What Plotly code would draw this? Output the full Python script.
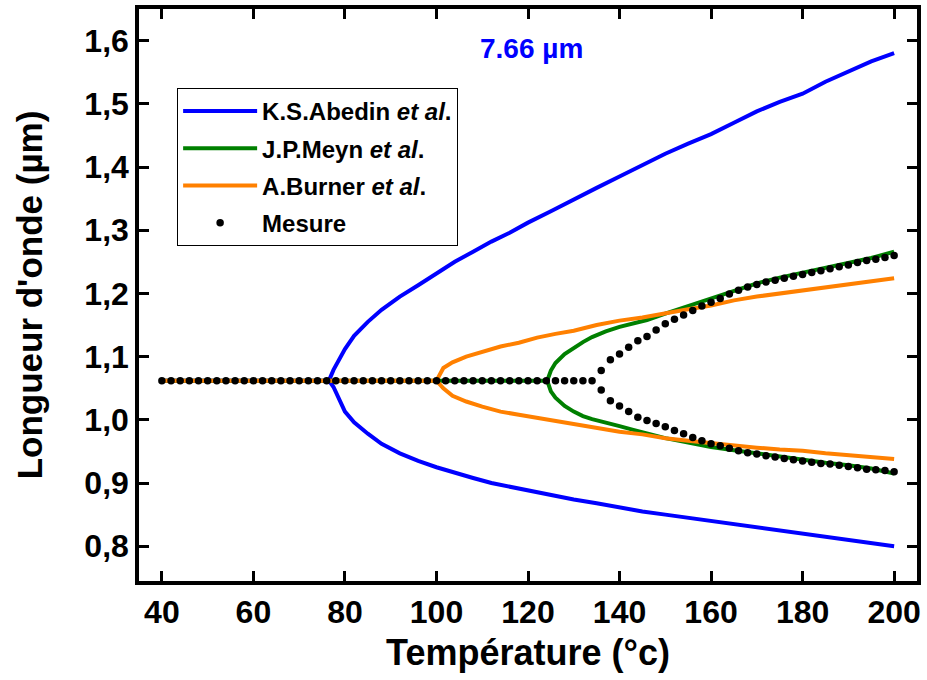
import plotly.graph_objects as go

# ---------------- data ----------------
flat_level = 1.062

abedin_T = [76.5, 77.5, 80, 82, 85, 88, 92, 96, 100, 104, 108, 112, 116, 120, 125, 130,
            135, 140, 145, 150, 155, 160, 165, 170, 175, 180, 185, 190, 195, 200]
abedin_up = [1.062, 1.079, 1.112, 1.133, 1.155, 1.174, 1.195, 1.213, 1.231, 1.250, 1.266,
             1.282, 1.296, 1.312, 1.330, 1.349, 1.367, 1.385, 1.403, 1.421, 1.437, 1.452,
             1.470, 1.488, 1.503, 1.516, 1.535, 1.551, 1.567, 1.580]
abedin_low = [1.062, 1.052, 1.013, 0.996, 0.978, 0.962, 0.947, 0.935, 0.925, 0.916, 0.908,
              0.900, 0.894, 0.888, 0.881, 0.874, 0.868, 0.861, 0.855, 0.850, 0.845, 0.839,
              0.834, 0.829, 0.824, 0.819, 0.814, 0.809, 0.804, 0.800]

meyn_T = [124.2, 125, 126, 128, 130, 132, 134, 137, 140, 143, 146, 150, 155, 160, 165,
          170, 175, 180, 185, 190, 195, 200]
meyn_up = [1.062, 1.078, 1.090, 1.104, 1.114, 1.123, 1.131, 1.140, 1.147, 1.152, 1.158,
           1.168, 1.180, 1.192, 1.204, 1.216, 1.225, 1.233, 1.241, 1.248, 1.256, 1.266]
meyn_low = [1.062, 1.045, 1.035, 1.022, 1.013, 1.006, 1.001, 0.996, 0.990, 0.984, 0.978,
            0.971, 0.964, 0.957, 0.952, 0.947, 0.942, 0.936, 0.932, 0.928, 0.923, 0.915]

burner_T = [100, 101.5, 103.5, 106.5, 110, 114, 118, 122, 126, 130, 135, 140, 145, 150,
            155, 160, 165, 170, 175, 180, 185, 190, 195, 200]
burner_up = [1.062, 1.082, 1.091, 1.100, 1.108, 1.116, 1.122, 1.130, 1.136, 1.141, 1.150,
             1.157, 1.162, 1.169, 1.175, 1.181, 1.189, 1.195, 1.200, 1.205, 1.209, 1.214,
             1.220, 1.224]
burner_low = [1.062, 1.050, 1.038, 1.029, 1.021, 1.013, 1.008, 1.003, 0.998, 0.993, 0.987,
              0.981, 0.977, 0.971, 0.967, 0.963, 0.959, 0.956, 0.953, 0.951, 0.947, 0.944,
              0.941, 0.938]

mesure_T_flat = list(range(40, 135, 2))
mesure_T_split = list(range(136, 201, 2))
mesure_up = [1.078, 1.095, 1.104, 1.115, 1.125, 1.132, 1.142, 1.152, 1.159, 1.166, 1.173,
             1.180, 1.186, 1.192, 1.199, 1.205, 1.210, 1.214, 1.218, 1.221, 1.224, 1.227,
             1.230, 1.233, 1.236, 1.239, 1.242, 1.245, 1.249, 1.252, 1.254, 1.257, 1.260]
mesure_low = [1.047, 1.030, 1.022, 1.013, 1.004, 0.999, 0.994, 0.989, 0.983, 0.978, 0.972,
              0.967, 0.962, 0.959, 0.955, 0.951, 0.948, 0.946, 0.943, 0.941, 0.939, 0.937,
              0.935, 0.933, 0.931, 0.930, 0.928, 0.926, 0.924, 0.922, 0.921, 0.920, 0.918]

x_start = 40
x_ticks = [40, 60, 80, 100, 120, 140, 160, 180, 200]
y_ticks = [0.8, 0.9, 1.0, 1.1, 1.2, 1.3, 1.4, 1.5, 1.6]

series_names = ["K.S.Abedin <i>et al</i>.", "J.P.Meyn <i>et al</i>.",
                "A.Burner <i>et al</i>.", "Mesure"]
colors = ["#0000FF", "#008000", "#FF8000", "#000000"]

FONT = "Arial, Liberation Sans, sans-serif"


def branch_xy(T, up, low):
    xs = [x_start] + T + [None] + T
    ys = [flat_level] + up + [None] + low
    return xs, ys


fig = go.Figure()
for i, (T, up, low) in enumerate([(abedin_T, abedin_up, abedin_low),
                                  (meyn_T, meyn_up, meyn_low),
                                  (burner_T, burner_up, burner_low)]):
    xs, ys = branch_xy(T, up, low)
    fig.add_trace(go.Scatter(x=xs, y=ys, mode="lines", name=series_names[i],
                             line=dict(color=colors[i], width=4),
                             legendgroup=str(i), connectgaps=False))

mx = mesure_T_flat + mesure_T_split + mesure_T_split
my = [flat_level] * len(mesure_T_flat) + mesure_up + mesure_low
fig.add_trace(go.Scatter(x=mx, y=my, mode="markers", name=series_names[3],
                         marker=dict(color=colors[3], size=7.5), legendgroup="3"))

axis_common = dict(showline=True, linecolor="black", linewidth=3.5, mirror="ticks",
                   ticks="inside", ticklen=10, tickwidth=2.5, tickcolor="black",
                   showgrid=False, zeroline=False, automargin=False,
                   tickfont=dict(family=FONT, size=32, color="black", weight="bold"))

fig.update_layout(
    width=927, height=680,
    margin=dict(l=139, r=10, t=9, b=99),
    paper_bgcolor="white", plot_bgcolor="white",
    separators=", ",
    font=dict(family=FONT, color="black"),
    xaxis=dict(range=[35, 205], tickvals=x_ticks,
               title=dict(text="<b>Température (°c)</b>",
                          font=dict(family=FONT, size=36, color="black"), standoff=12),
               **axis_common),
    yaxis=dict(range=[0.745, 1.65], tickvals=y_ticks, tickformat=".1f",
               title=dict(text="<b>Longueur d'onde (µm)</b>",
                          font=dict(family=FONT, size=35, color="black"), standoff=32),
               **axis_common),
    legend=dict(x=0.049, y=0.862, xanchor="left", yanchor="top",
                bordercolor="black", borderwidth=1, bgcolor="white",
                font=dict(family=FONT, size=24, color="black", weight="bold"),
                traceorder="grouped", tracegroupgap=3, itemwidth=74),
    showlegend=True,
    annotations=[dict(x=120.8, y=1.588, xref="x", yref="y", text="<b>7.66 µm</b>",
                      showarrow=False,
                      font=dict(family=FONT, size=28, color="#0000FF"))],
)

fig.write_html("out.html", config={"displayModeBar": False},
               post_script="document.body.style.margin='0';document.body.style.padding='0';"
                           "document.body.style.overflow='hidden';")
